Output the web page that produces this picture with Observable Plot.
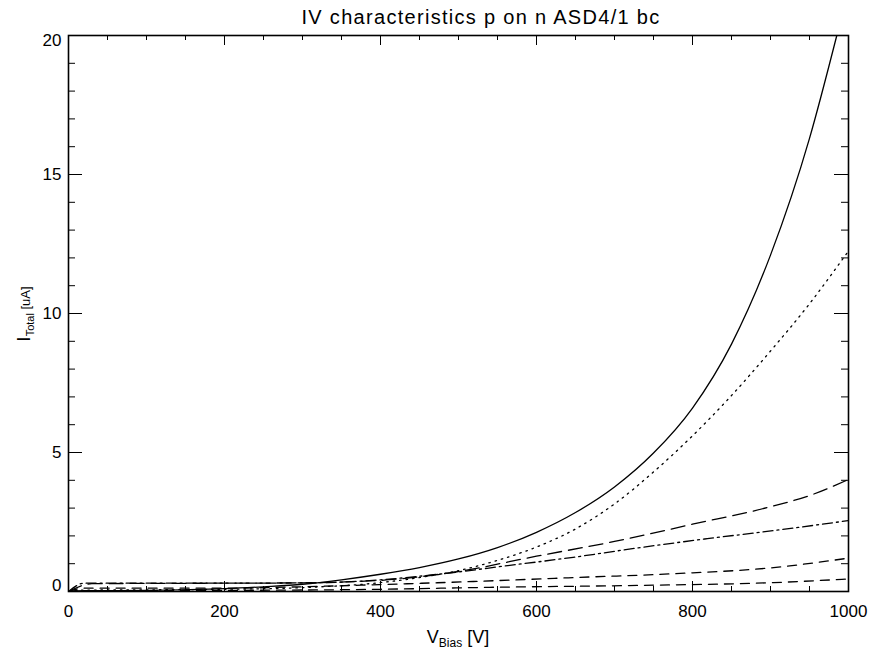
<!DOCTYPE html>
<html><head><meta charset="utf-8">
<script src="https://cdn.jsdelivr.net/npm/d3@7"></script>
<script src="https://cdn.jsdelivr.net/npm/@observablehq/plot@0.6"></script>
<style>
body{margin:0;background:#fff;font-family:"Liberation Sans",sans-serif;}
</style></head><body>
<div id="chart"></div>
<script>
// Title
const titleText = "IV characteristics p on n ASD4/1 bc";
// Tick values
const xMajor = [0, 200, 400, 600, 800, 1000];
const xMinor = [50,100,150,250,300,350,450,500,550,650,700,750,850,900,950];
const yMajor = [0, 5, 10, 15, 20];
const yMinor = [1,2,3,4,6,7,8,9,11,12,13,14,16,17,18,19];

// Series: solid
const solidV = [0, 20, 100, 200, 250, 300, 350, 400, 450, 500, 550, 600, 650, 700, 750, 800, 850, 900, 950, 985];
const solidI = [0, 0.03, 0.04, 0.1, 0.17, 0.26, 0.42, 0.62, 0.86, 1.17, 1.58, 2.13, 2.84, 3.76, 4.98, 6.6, 8.9, 12.1, 16.3, 20];
// dotted
const dotV = [0, 20, 100, 200, 300, 400, 450, 500, 550, 600, 650, 700, 750, 800, 850, 900, 950, 1000];
const dotI = [0, 0.05, 0.06, 0.08, 0.14, 0.32, 0.5, 0.75, 1.12, 1.6, 2.25, 3.15, 4.3, 5.6, 7.05, 8.65, 10.35, 12.25];
// long dashes
const longV = [0, 30, 200, 300, 350, 400, 450, 500, 600, 700, 800, 900, 950, 1000];
const longI = [0, 0.28, 0.3, 0.31, 0.34, 0.4, 0.53, 0.72, 1.27, 1.8, 2.42, 3.05, 3.45, 4.03];
// dash-dot
const ddV = [0, 20, 200, 300, 350, 400, 477, 563, 647, 733, 819, 904, 1000];
const ddI = [0, 0.3, 0.3, 0.31, 0.34, 0.42, 0.63, 0.93, 1.23, 1.58, 1.9, 2.19, 2.55];
// dashed (upper)
const dashAV = [0, 20, 200, 300, 400, 519, 647, 776, 904, 1000];
const dashAI = [0, 0.12, 0.12, 0.17, 0.25, 0.36, 0.5, 0.64, 0.86, 1.2];
// dashed (lower)
const dashBV = [0, 20, 200, 400, 540, 733, 904, 1000];
const dashBI = [0, 0.03, 0.04, 0.08, 0.15, 0.22, 0.32, 0.45];

const rows = (V, I) => V.map((v, i) => ({V: v, I: I[i]}));
const lineOpts = {x: "V", y: "I", stroke: "black", strokeWidth: 1.3, clip: true, curve: "monotone-x"};

const W = 874, H = 651, mT = 35, mB = 60, mL = 68, mR = 26;
const pw = W - mL - mR, ph = H - mT - mB;
const tick = {stroke: "black", strokeWidth: 1};

const chart = Plot.plot({
  width: W, height: H,
  marginTop: mT, marginBottom: mB, marginLeft: mL, marginRight: mR,
  x: {domain: [0, 1000]},
  y: {domain: [0, 20]},
  style: {fontFamily: "Liberation Sans, sans-serif", color: "black", background: "white"},
  marks: [
    Plot.line(rows(dashBV, dashBI), {...lineOpts, strokeDasharray: "9,7"}),
    Plot.line(rows(dashAV, dashAI), {...lineOpts, strokeDasharray: "9,7"}),
    Plot.line(rows(ddV, ddI), {...lineOpts, strokeDasharray: "10,4,2,4"}),
    Plot.line(rows(longV, longI), {...lineOpts, strokeDasharray: "14,7"}),
    Plot.line(rows(dotV, dotI), {...lineOpts, strokeDasharray: "1.5,5"}),
    Plot.line(rows(solidV, solidI), {...lineOpts}),
    // inward ticks
    Plot.ruleX(xMajor, {x: d => d, insetTop: ph - 10, ...tick}),
    Plot.ruleX(xMinor, {x: d => d, insetTop: ph - 5, ...tick}),
    Plot.ruleX(xMajor, {x: d => d, insetBottom: ph - 10, ...tick}),
    Plot.ruleX(xMinor, {x: d => d, insetBottom: ph - 5, ...tick}),
    Plot.ruleY(yMajor, {y: d => d, insetRight: pw - 14, ...tick}),
    Plot.ruleY(yMinor, {y: d => d, insetRight: pw - 7, ...tick}),
    Plot.ruleY(yMajor, {y: d => d, insetLeft: pw - 14, ...tick}),
    Plot.ruleY(yMinor, {y: d => d, insetLeft: pw - 7, ...tick}),
    Plot.frame({stroke: "black", strokeWidth: 1.6}),
    Plot.axisX(xMajor, {anchor: "bottom", tickSize: 0, tickPadding: 13, fontSize: 17, label: null, tickFormat: d => String(d)}),
    Plot.axisY(yMajor.filter(d => d === 20), {anchor: "left", tickSize: 0, tickPadding: 7, fontSize: 17, label: null, dy: 5}),
    Plot.axisY(yMajor.filter(d => d > 0 && d < 20), {anchor: "left", tickSize: 0, tickPadding: 7, fontSize: 17, label: null}),
    Plot.axisY(yMajor.filter(d => d === 0), {anchor: "left", tickSize: 0, tickPadding: 7, fontSize: 17, label: null, dy: -6})
  ]
});
document.getElementById("chart").appendChild(chart);

const svg = d3.select(chart);
// title
svg.append("text").attr("x", 481).attr("y", 24).attr("text-anchor", "middle")
  .attr("font-family", "Liberation Sans, sans-serif").attr("font-size", 20)
  .attr("letter-spacing", "1.3px").attr("fill", "black").text(titleText);
// x-axis label
const xl = svg.append("text").attr("x", 458).attr("y", 643).attr("text-anchor", "middle")
  .attr("font-family", "Liberation Sans, sans-serif").attr("fill", "black");
xl.append("tspan").attr("font-size", 18).text("V");
xl.append("tspan").attr("font-size", 12).attr("dy", 4).text("Bias");
xl.append("tspan").attr("font-size", 18).attr("dy", -4).text("\u00a0[V]");
// y-axis label
const yl = svg.append("text").attr("transform", "translate(30,314) rotate(-90)").attr("text-anchor", "middle")
  .attr("font-family", "Liberation Sans, sans-serif").attr("fill", "black");
yl.append("tspan").attr("font-size", 19).text("I");
yl.append("tspan").attr("font-size", 11).attr("dy", 4).text("Total");
yl.append("tspan").attr("font-size", 13).attr("dy", -4).text("\u00a0[uA]");
</script>
</body></html>
